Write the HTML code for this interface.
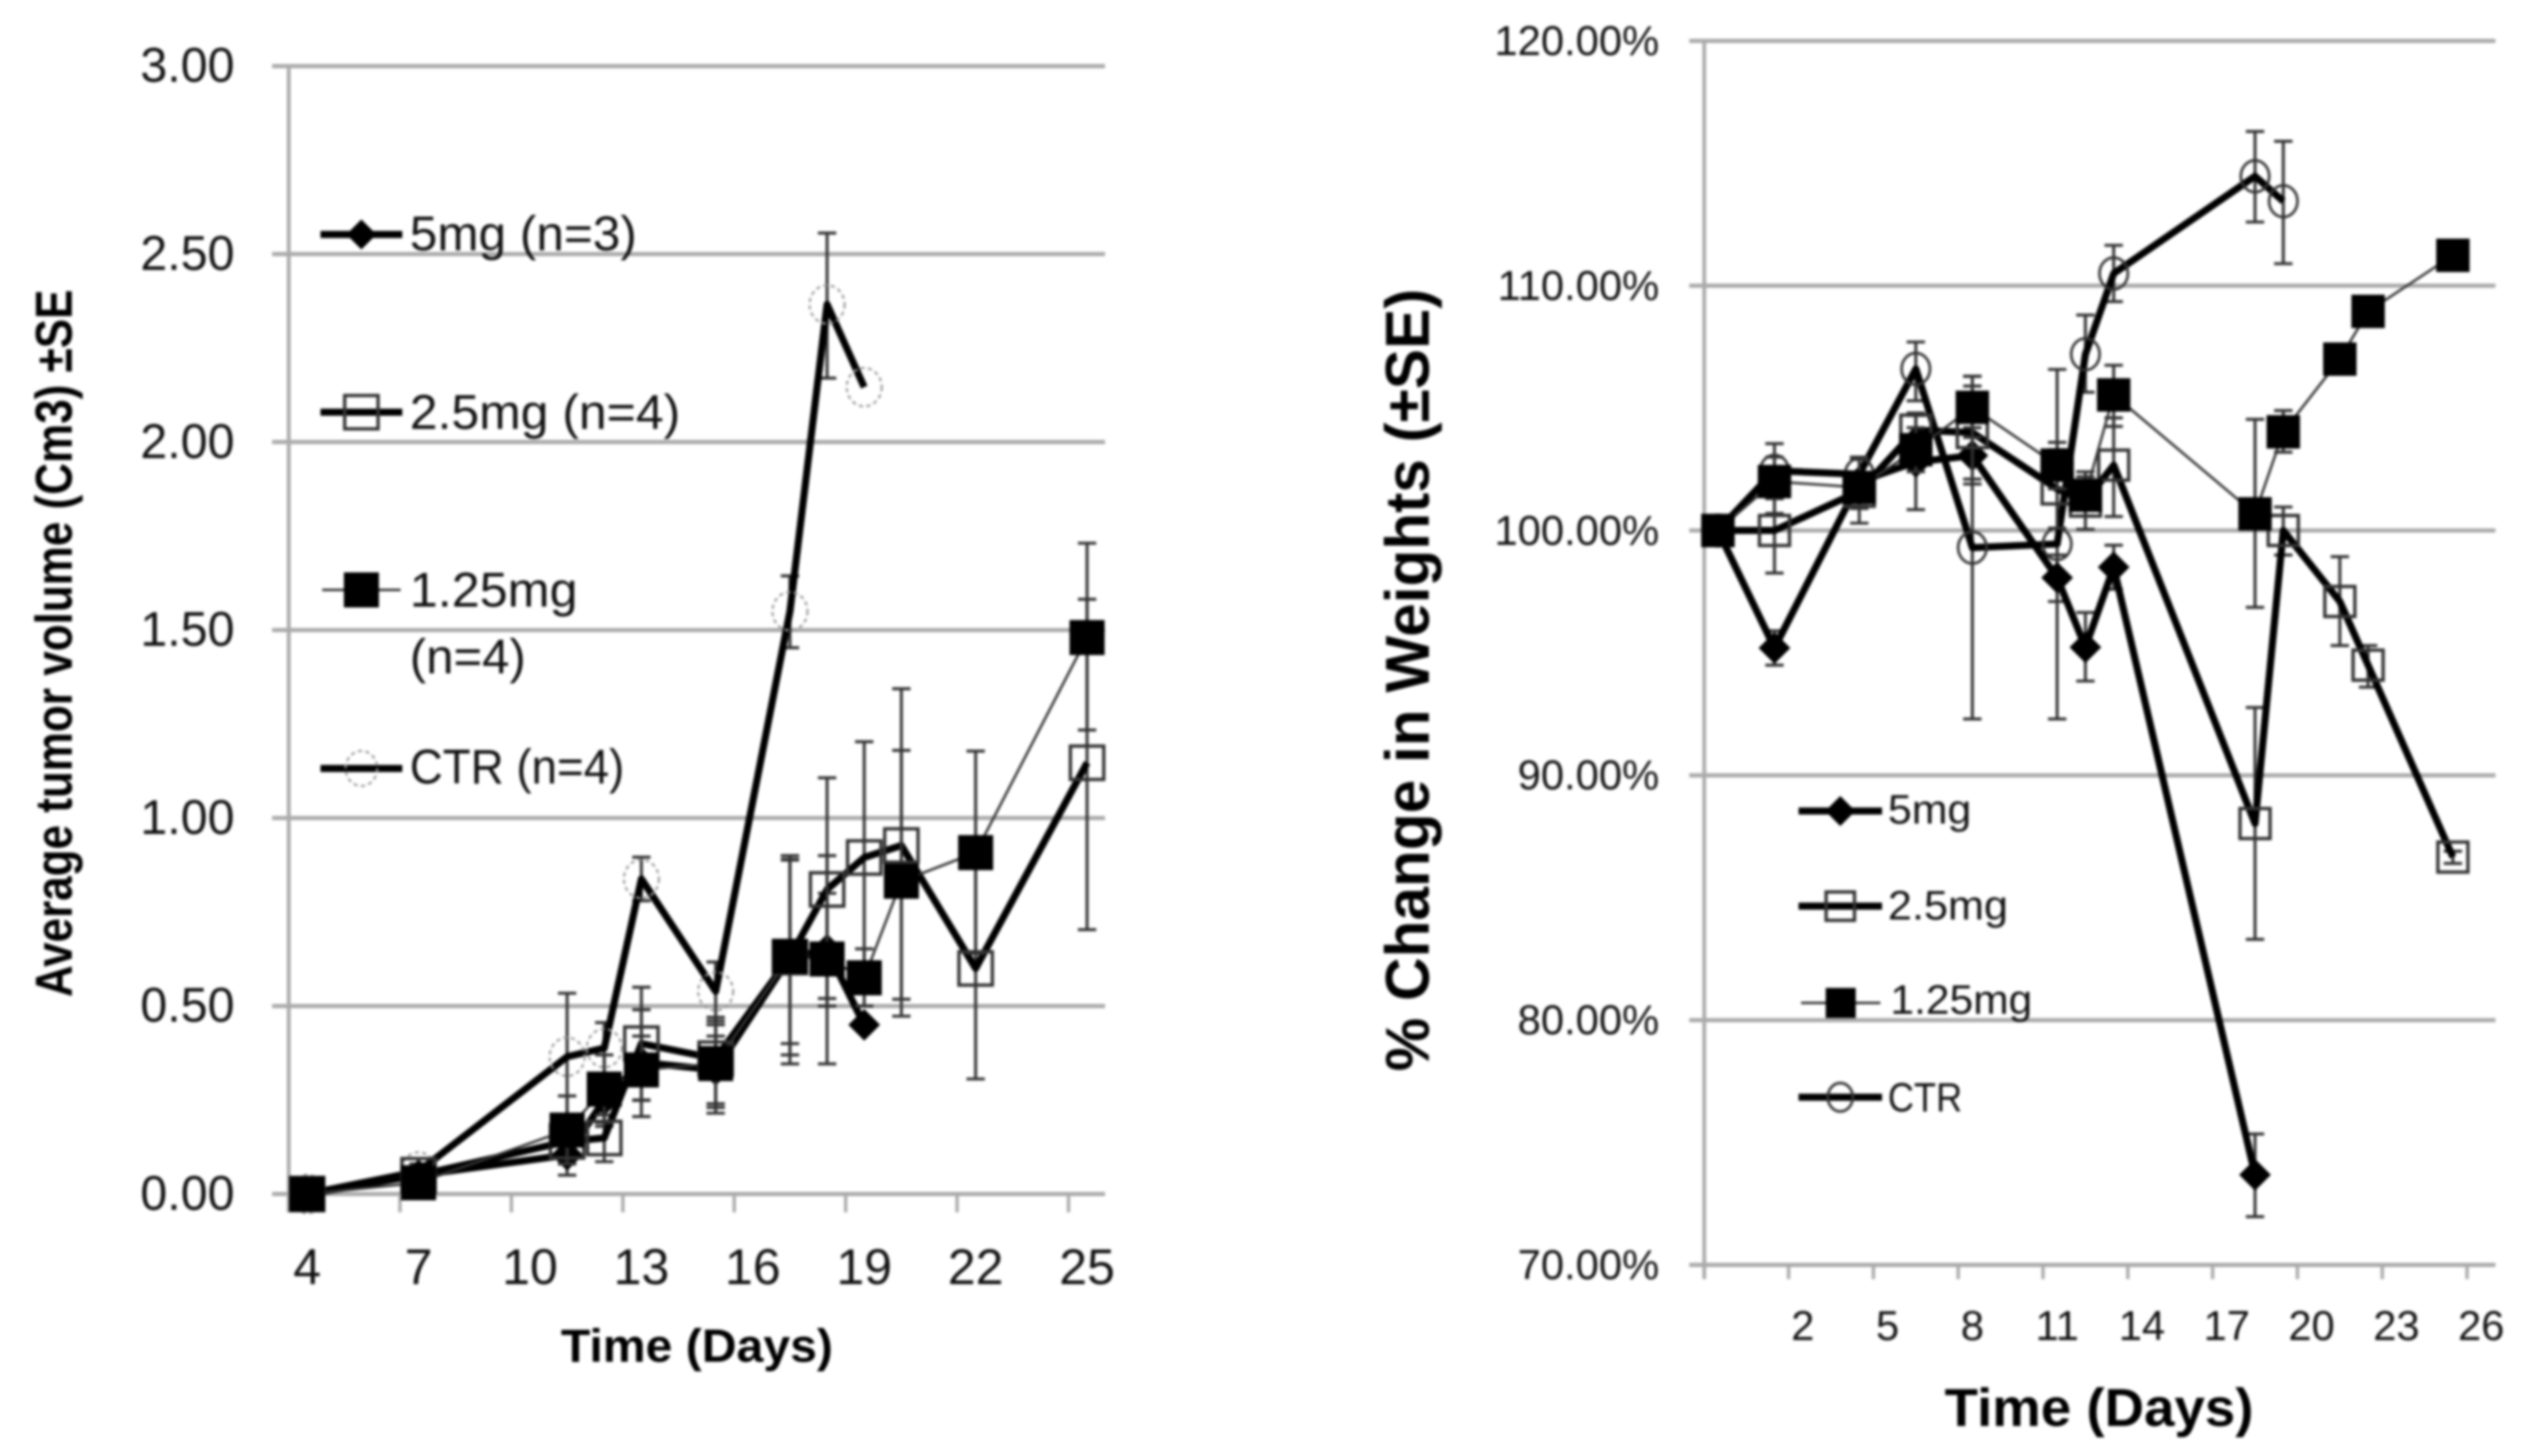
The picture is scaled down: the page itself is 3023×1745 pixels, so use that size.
<!DOCTYPE html>
<html>
<head>
<meta charset="utf-8">
<title>Tumor volume and weight change charts</title>
<style>
html,body{margin:0;padding:0;background:#fff;width:3023px;height:1745px;overflow:hidden}
svg{display:block;filter:blur(1.7px)}
text{font-family:"Liberation Sans",sans-serif;fill:#111}
.b{font-weight:bold;fill:#000}
</style>
</head>
<body>
<svg id="figure" width="3023" height="1745" viewBox="0 0 3023 1745" xmlns="http://www.w3.org/2000/svg">
  <rect width="3023" height="1745" fill="#fff"/>
  <g id="left-chart">
    <g id="left-grid"></g>
    <g id="left-marks"></g>
    <text class="b" font-size="62" textLength="848" lengthAdjust="spacingAndGlyphs" transform="translate(86,1195) rotate(-90)">Average tumor volume (Cm3) ±SE</text>
    <text class="b" font-size="56" x="672" y="1632" textLength="326" lengthAdjust="spacingAndGlyphs">Time (Days)</text>
    <g>
      <text x="491" y="300" font-size="58" textLength="272" lengthAdjust="spacingAndGlyphs">5mg (n=3)</text>
      <text x="491" y="514" font-size="58" textLength="324" lengthAdjust="spacingAndGlyphs">2.5mg (n=4)</text>
      <text x="491" y="727" font-size="58" textLength="201" lengthAdjust="spacingAndGlyphs">1.25mg</text>
      <text x="491" y="807" font-size="58" textLength="139" lengthAdjust="spacingAndGlyphs">(n=4)</text>
      <text x="491" y="939" font-size="58" textLength="257" lengthAdjust="spacingAndGlyphs">CTR (n=4)</text>
    </g>
  </g>
  <g id="right-chart">
    <g id="right-grid"></g>
    <g id="right-marks"></g>
    <text class="b" font-size="74" textLength="938" lengthAdjust="spacingAndGlyphs" transform="translate(1712,1284) rotate(-90)">% Change in Weights (±SE)</text>
    <text class="b" font-size="64" x="2330" y="1709" textLength="370" lengthAdjust="spacingAndGlyphs">Time (Days)</text>
    <g>
      <text x="2262" y="987" font-size="49" textLength="100" lengthAdjust="spacingAndGlyphs">5mg</text>
      <text x="2262" y="1102" font-size="49" textLength="144" lengthAdjust="spacingAndGlyphs">2.5mg</text>
      <text x="2265" y="1215" font-size="49" textLength="170" lengthAdjust="spacingAndGlyphs">1.25mg</text>
      <text x="2262" y="1332" font-size="49" textLength="89" lengthAdjust="spacingAndGlyphs">CTR</text>
    </g>
  </g>
</svg>
<script>
// ---------- Left chart data ----------
const tumorDays = [4, 7, 11, 12, 13, 15, 17, 18, 19, 20, 22, 25];
const tumorXTicks = [4, 7, 10, 13, 16, 19, 22, 25];
const tumorYTicks = [0, 0.5, 1, 1.5, 2, 2.5, 3];

const tumor5mg = [0, 0.05, 0.104, 0.25, 0.35, 0.33, 0.63, 0.65, 0.45];
const tumor5mgUp = [0, 0.07, 0.15, 0.32, 0.49, 0.45, 0.89, 0.80, 0.45];
const tumor5mgLow = [0, 0.03, 0.05, 0.18, 0.206, 0.215, 0.37, 0.50, 0.45];

const tumor25mg = [0, 0.05, 0.14, 0.149, 0.40, 0.36, 0.63, 0.81, 0.895, 0.927, 0.60, 1.147];
const tumor25mgUp = [0, 0.07, 0.20, 0.21, 0.55, 0.47, 0.90, 1.107, 1.203, 1.344, 0.90, 1.582];
const tumor25mgLow = [0, 0.03, 0.08, 0.086, 0.25, 0.23, 0.346, 0.52, 0.59, 0.473, 0.306, 0.703];

const tumor125mg = [0, 0.03, 0.17, 0.279, 0.33, 0.347, 0.632, 0.625, 0.575, 0.832, 0.908, 1.48];
const tumor125mgUp = [0, 0.05, 0.261, 0.37, 0.42, 0.42, 0.888, 0.90, 0.652, 1.18, 1.178, 1.731];
const tumor125mgLow = [0, 0.01, 0.08, 0.19, 0.249, 0.24, 0.40, 0.346, 0.50, 0.518, 0.64, 1.234];

const tumorCtr = [0, 0.06, 0.365, 0.388, 0.838, 0.539, 1.55, 2.366, 2.146];
const tumorCtrUp = [0, 0.08, 0.534, 0.456, 0.896, 0.617, 1.644, 2.556, 2.146];
const tumorCtrLow = [0, 0.04, 0.19, 0.32, 0.78, 0.46, 1.453, 2.17, 2.146];

// ---------- Right chart data ----------
const weightDays = [-1, 1, 4, 6, 8, 11, 12, 13, 18, 19, 21, 22, 25];
const weightXTicks = [2, 5, 8, 11, 14, 17, 20, 23, 26];
const weightYTicks = [70, 80, 90, 100, 110, 120];

const weight5mg = [100, 95.2, 102, 102.8, 103.06, 98.07, 95.23, 98.5, 73.68];
const weight5mgUp = [100, 95.9, 103, 104.7, 104.2, 99, 96.65, 99.4, 75.35];
const weight5mgLow = [100, 94.5, 101, 100.85, 101.9, 97.1, 93.85, 97.6, 71.97];

const weight25mg = [100, 100, 101.6, 104.1, 104, 101.7, 101.2, 102.67, 88.03, 100, 97.1, 94.5, 86.66];
const weight25mgUp = [100, 101.7, 102.3, 104.8, 105.9, 103.3, 102.4, 104.6, 92.77, 100.96, 98.93, 95.3, 86.9];
const weight25mgLow = [100, 98.26, 100.9, 103.4, 102.1, 100.1, 100.05, 100.57, 83.3, 99, 95.3, 93.6, 86.4];

const weight125mg = [100, 102, 101.76, 103.3, 105.03, 102.67, 101.44, 105.54, 100.68, 104.03, 107, 108.95, 111.24];
const weight125mgUp = [100, 103, 102.9, 104.2, 106.3, 103.6, 102.2, 106.75, 104.54, 104.9, 107.2, 109.1, 111.4];
const weight125mgLow = [100, 100.7, 100.3, 102.4, 103.8, 101.7, 100.6, 104.25, 96.86, 103.2, 106.8, 108.8, 111.1];

const weightCtr = [100, 102.44, 102.3, 106.6, 99.3, 99.45, 107.2, 110.5, 114.47, 113.45];
const weightCtrUp = [100, 103.55, 103, 107.7, 106.3, 106.58, 108.8, 111.65, 116.3, 115.9];
const weightCtrLow = [100, 101.3, 101.6, 105.3, 92.3, 92.3, 105.65, 109.35, 112.6, 110.9];

const NS = 'http://www.w3.org/2000/svg';
function add(parent, tag, attrs) {
  const el = document.createElementNS(NS, tag);
  for (const k in attrs) el.setAttribute(k, attrs[k]);
  parent.appendChild(el);
  return el;
}

// Axis functions
const leftX = d => 368 + 44.5 * (d - 4);
const leftY = v => 1431 - 450.6 * v;
const rightX = d => 2160 + 33.87 * (d - 2);
const rightY = v => 1516 - 29.34 * (v - 70);

function drawMarker(g, kind, x, y, size, circleStyle) {
  let m;
  if (kind === 'diamond') {
    m = add(g, 'polygon', {points: `${x - size},${y} ${x},${y - size} ${x + size},${y} ${x},${y + size}`, fill: '#000'});
  } else if (kind === 'filled') {
    m = add(g, 'rect', {x: x - size, y: y - size, width: size * 2, height: size * 2, fill: '#000'});
  } else if (kind === 'open') {
    m = add(g, 'rect', {x: x - size, y: y - size, width: size * 2, height: size * 2, fill: 'none', stroke: '#333', 'stroke-width': 4});
  } else {
    m = add(g, 'ellipse', {cx: x, cy: y, rx: size, ry: size + 2, fill: 'none', stroke: circleStyle.stroke, 'stroke-width': circleStyle.width, 'stroke-dasharray': circleStyle.dash});
  }
  
  
}

function drawSeries(parent, name, days, vals, up, low, xf, yf, opt) {
  const g = add(parent, 'g', {});
  
  
  vals.forEach((v, i) => {
    const x = xf(days[i]);
    if (up[i] === v && low[i] === v) return;
    const bar = add(g, 'path', {
      d: `M${x - 11},${yf(up[i])}H${x + 11}M${x},${yf(up[i])}V${yf(low[i])}M${x - 11},${yf(low[i])}H${x + 11}`,
      fill: 'none', stroke: '#333', 'stroke-width': 3.6
    });
    
    
  });
  const pts = vals.map((v, i) => xf(days[i]) + ',' + yf(v)).join(' ');
  const line = add(g, 'polyline', {points: pts, fill: 'none', stroke: opt.lineColor, 'stroke-width': opt.lineWidth, 'stroke-linejoin': 'round'});
  
  
  vals.forEach((v, i) => drawMarker(g, opt.marker, xf(days[i]), yf(v), opt.size, opt.circle));
}

function drawAxes(gridId, o) {
  const grid = document.getElementById(gridId);
  o.yTicks.forEach(v => {
    const gl = add(grid, 'line', {x1: o.gridStart, x2: o.gridEnd, y1: o.yf(v), y2: o.yf(v), stroke: '#aaa', 'stroke-width': 5});
    
    
    const t = add(grid, 'text', {x: o.yLabelX, y: o.yf(v) + o.yLabelDy, 'text-anchor': 'end', 'font-size': o.yFontSize});
    t.textContent = o.yFormat(v);
    
    
  });
  const axis = add(grid, 'line', {x1: o.axisX, x2: o.axisX, y1: o.yf(o.yTicks[o.yTicks.length - 1]) - 2, y2: o.yf(o.yTicks[0]) + o.tickLen, stroke: '#aaa', 'stroke-width': 4.5});
  
  
  o.xTicks.forEach(d => {
    const tx = o.xf(d) - o.tickStep / 2;
    const tk = add(grid, 'line', {x1: tx, x2: tx, y1: o.yf(o.yTicks[0]), y2: o.yf(o.yTicks[0]) + o.tickLen, stroke: '#aaa', 'stroke-width': 4});
    
    
    const t = add(grid, 'text', {x: o.xf(d), y: o.xLabelY, 'text-anchor': 'middle', 'font-size': o.xFontSize});
    t.textContent = String(d);
    
    
  });
}

drawAxes('left-grid', {
  yTicks: tumorYTicks, xTicks: tumorXTicks, xf: leftX, yf: leftY,
  gridStart: 326, gridEnd: 1324, axisX: 346, tickLen: 22, tickStep: 44.5,
  yLabelX: 281, yLabelDy: 19, xLabelY: 1539, yFontSize: 58, xFontSize: 60,
  yFormat: v => v.toFixed(2)
});
drawAxes('right-grid', {
  yTicks: weightYTicks, xTicks: weightXTicks, xf: rightX, yf: rightY,
  gridStart: 2024, gridEnd: 2990, axisX: 2042, tickLen: 17, tickStep: 33.87,
  yLabelX: 1988, yLabelDy: 17, xLabelY: 1606, yFontSize: 50, xFontSize: 50,
  yFormat: v => v.toFixed(2) + '%'
});

const leftCircle = {stroke: '#999', width: 2.5, dash: '5 4'};
const rightCircle = {stroke: '#333', width: 3.2, dash: 'none'};
const leftMarks = document.getElementById('left-marks');
const rightMarks = document.getElementById('right-marks');

drawSeries(leftMarks, 'ctr', tumorDays, tumorCtr, tumorCtrUp, tumorCtrLow, leftX, leftY, {marker: 'circle', size: 21, lineColor: '#000', lineWidth: 8.5, circle: leftCircle});
drawSeries(leftMarks, '5mg', tumorDays, tumor5mg, tumor5mgUp, tumor5mgLow, leftX, leftY, {marker: 'diamond', size: 19, lineColor: '#000', lineWidth: 8.5});
drawSeries(leftMarks, '2.5mg', tumorDays, tumor25mg, tumor25mgUp, tumor25mgLow, leftX, leftY, {marker: 'open', size: 20, lineColor: '#000', lineWidth: 8.5});
drawSeries(leftMarks, '1.25mg', tumorDays, tumor125mg, tumor125mgUp, tumor125mgLow, leftX, leftY, {marker: 'filled', size: 21, lineColor: '#333', lineWidth: 3});

drawSeries(rightMarks, 'ctr', weightDays, weightCtr, weightCtrUp, weightCtrLow, rightX, rightY, {marker: 'circle', size: 17, lineColor: '#000', lineWidth: 8.5, circle: rightCircle});
drawSeries(rightMarks, '5mg', weightDays, weight5mg, weight5mgUp, weight5mgLow, rightX, rightY, {marker: 'diamond', size: 19, lineColor: '#000', lineWidth: 8.5});
drawSeries(rightMarks, '2.5mg', weightDays, weight25mg, weight25mgUp, weight25mgLow, rightX, rightY, {marker: 'open', size: 18, lineColor: '#000', lineWidth: 8.5});
drawSeries(rightMarks, '1.25mg', weightDays, weight125mg, weight125mgUp, weight125mgLow, rightX, rightY, {marker: 'filled', size: 20, lineColor: '#333', lineWidth: 3});

function legendHandle(parent, name, x1, x2, y, thick, marker, size, circle) {
  const g = add(parent, 'g', {});
  
  
  const l = add(g, 'line', {x1: x1, x2: x2, y1: y, y2: y, stroke: thick ? '#000' : '#333', 'stroke-width': thick ? 8.5 : 3});
  
  
  drawMarker(g, marker, (x1 + x2) / 2, y, size, circle);
}
legendHandle(leftMarks, '5mg', 384, 482, 281, true, 'diamond', 18);
legendHandle(leftMarks, '2.5mg', 384, 482, 494, true, 'open', 20);
legendHandle(leftMarks, '1.25mg', 386, 480, 707, false, 'filled', 21);
legendHandle(leftMarks, 'ctr', 384, 482, 921, true, 'circle', 19, leftCircle);
legendHandle(rightMarks, '5mg', 2155, 2255, 972, true, 'diamond', 18);
legendHandle(rightMarks, '2.5mg', 2155, 2255, 1086, true, 'open', 17);
legendHandle(rightMarks, '1.25mg', 2158, 2253, 1202, false, 'filled', 18);
legendHandle(rightMarks, 'ctr', 2155, 2255, 1315, true, 'circle', 15, rightCircle);
</script>
</body>
</html>
